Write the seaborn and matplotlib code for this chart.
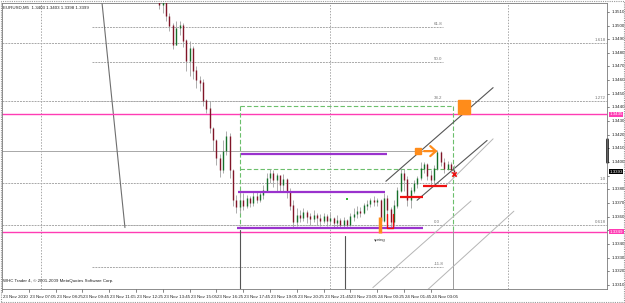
import numpy as np
import pandas as pd
import matplotlib
matplotlib.use("Agg")
import matplotlib.pyplot as plt
import matplotlib.transforms as mtransforms
from matplotlib.patches import Rectangle
import seaborn as sns

# ---------------- data ----------------
symbol_title = "EURUSD,M5  1.3403 1.3403 1.3398 1.3399"
copyright_text = "WHC Trader 4, \u00a9 2001-2009 MetaQuotes Software Corp."

# x axis: minutes after 23 Nov 05:45
tick_minutes = [0, 80, 160, 240, 320, 400, 480, 560, 640, 720, 800, 880, 960, 1040, 1120, 1200, 1280]
tick_labels = ["23 Nov 2010", "23 Nov 07:05", "23 Nov 08:25", "23 Nov 09:45", "23 Nov 11:05",
               "23 Nov 12:25", "23 Nov 13:45", "23 Nov 15:05", "23 Nov 16:25", "23 Nov 17:45",
               "23 Nov 19:05", "23 Nov 20:25", "23 Nov 21:45", "23 Nov 23:05", "24 Nov 00:25",
               "24 Nov 01:45", "24 Nov 03:05"]
price_ticks = [1.3510, 1.3500, 1.3490, 1.3480, 1.3470, 1.3460, 1.3450, 1.3440, 1.3430, 1.3420,
               1.3410, 1.3400, 1.3390, 1.3380, 1.3370, 1.3360, 1.3350, 1.3340, 1.3330, 1.3320, 1.3310]

first_bar_minute = 460          # 23 Nov 13:25
bar_step_minutes = 10

closes = [1.3522, 1.3515, 1.3518, 1.3507, 1.3500, 1.3486, 1.3498, 1.3500, 1.3489, 1.3474,
          1.3483, 1.3467, 1.3460, 1.3458, 1.3445, 1.3439, 1.3425, 1.3416, 1.3403, 1.3394,
          1.3408, 1.3419, 1.3394, 1.3372, 1.3367, 1.3372, 1.3368, 1.3373, 1.3370, 1.3375,
          1.3372, 1.3376, 1.3379, 1.3388, 1.3392, 1.3387, 1.3390, 1.3383, 1.3387, 1.3378,
          1.3368, 1.3356, 1.3361, 1.3359, 1.3363, 1.3360, 1.3358, 1.3361, 1.3359, 1.3357,
          1.3360, 1.3357, 1.3359, 1.3355, 1.3357, 1.3354, 1.3357, 1.3354, 1.3360, 1.3362,
          1.3364, 1.3363, 1.3368, 1.3369, 1.3372, 1.3371, 1.3372, 1.3357, 1.3373, 1.3365,
          1.3356, 1.3368, 1.3379, 1.3392, 1.3387, 1.3372, 1.3379, 1.3384, 1.3388, 1.3395,
          1.3398, 1.3390, 1.3387, 1.3395, 1.3407, 1.3400, 1.3395, 1.3398, 1.3394, 1.3393]
highs = [1.3529, 1.3522, 1.3522, 1.3518, 1.3509, 1.3502, 1.3503, 1.3503, 1.3502, 1.3490,
         1.3489, 1.3485, 1.3470, 1.3463, 1.3461, 1.3446, 1.3445, 1.3426, 1.3417, 1.3406,
         1.3416, 1.3423, 1.3421, 1.3395, 1.3376, 1.3378, 1.3377, 1.3376, 1.3375, 1.3378,
         1.3379, 1.3379, 1.3383, 1.3392, 1.3395, 1.3394, 1.3392, 1.3390, 1.3391, 1.3388,
         1.3381, 1.3372, 1.3366, 1.3365, 1.3366, 1.3365, 1.3363, 1.3365, 1.3363, 1.3362,
         1.3363, 1.3362, 1.3363, 1.3360, 1.3361, 1.3359, 1.3360, 1.3358, 1.3363, 1.3366,
         1.3368, 1.3367, 1.3370, 1.3372, 1.3374, 1.3375, 1.3374, 1.3373, 1.3377, 1.3376,
         1.3367, 1.3372, 1.3382, 1.3396, 1.3395, 1.3390, 1.3382, 1.3387, 1.3390, 1.3400,
         1.3400, 1.3399, 1.3394, 1.3398, 1.3409, 1.3408, 1.3403, 1.3401, 1.3400, 1.3398]
lows = [1.3517, 1.3512, 1.3509, 1.3503, 1.3496, 1.3483, 1.3489, 1.3493, 1.3484, 1.3467,
        1.3463, 1.3461, 1.3454, 1.3452, 1.3441, 1.3436, 1.3421, 1.3408, 1.3398, 1.3389,
        1.3392, 1.3405, 1.3388, 1.3368, 1.3363, 1.3363, 1.3365, 1.3366, 1.3367, 1.3368,
        1.3370, 1.3371, 1.3373, 1.3378, 1.3385, 1.3382, 1.3379, 1.3378, 1.3379, 1.3374,
        1.3365, 1.3352, 1.3353, 1.3356, 1.3357, 1.3355, 1.3354, 1.3356, 1.3354, 1.3353,
        1.3355, 1.3353, 1.3354, 1.3352, 1.3352, 1.3352, 1.3352, 1.3352, 1.3353, 1.3357,
        1.3359, 1.3360, 1.3362, 1.3365, 1.3367, 1.3368, 1.3368, 1.3355, 1.3356, 1.3362,
        1.3352, 1.3353, 1.3366, 1.3378, 1.3379, 1.3368, 1.3366, 1.3377, 1.3381, 1.3387,
        1.3392, 1.3387, 1.3383, 1.3384, 1.3394, 1.3397, 1.3392, 1.3394, 1.3392, 1.3390]

# horizontal levels
fib_levels = [1.3499, 1.3473, 1.3445, 1.3354, 1.3323]
fib_texts = ["61.8", "50.0", "38.2", "0.0", "-11.8"]
fib_start, fib_end = 269, 1316
expansion_levels = [1.3487, 1.3445, 1.3385, 1.3354]
expansion_texts = ["1.618", "1.272", "1.0", "0.618"]
gray_level_151 = 1.3408
gray_level_151_end = 1299
pink_levels = [1.3435, 1.3349]
purple_levels = [1.3406, 1.3378, 1.3352]
purple_starts = [713, 704, 701]
purple_ends = [1149, 1143, 1257]
box_top, box_mid, box_bottom = 1.3441, 1.3395, 1.3352
box_left, box_right = 710, 1346
bid_price = 1.3393

# vertical lines (minutes)
dotted_verticals = [116, 979, 1510]
solid_vertical_a = (710, 1.3350)
solid_vertical_b = (1024, 1.3346)
trend_line = [(298, 1.3518), (367, 1.3352)]

# channel lines (minute, price) pairs
dark_channels = [[(1146, 1.33859), (1466, 1.34545)],
                 [(1239, 1.33720), (1448, 1.34158)]]
light_channels = [[(1322, 1.33820), (1466, 1.34170)],
                  [(1107, 1.33080), (1400, 1.33715)],
                  [(1264, 1.33050), (1528, 1.33640)]]

# annotation marks
orange_small = (1242, 1.3408)
orange_big = (1361, 1.3435, 36, 0.00102)
orange_arrow = [(1260, 1.3408), (1300, 1.3408)]
orange_bar = (1128, 1.33596, 1.33479)
red_segments = [(1188, 1257, 1.33742), (1257, 1328, 1.33822)]
red_cross = (1349, 1.3391)
green_dot = (1030, 1.33727)
spring_text = (1110, 1.33443)

# ---------------- figure ----------------
sns.set_theme(style="white")
plt.rcParams["font.family"] = ["Liberation Sans Narrow", "Liberation Sans", "DejaVu Sans"]

fig = plt.figure(figsize=(6.25, 3.03), dpi=100)
fig.patch.set_facecolor("white")
ax = fig.add_axes([2 / 625, 14 / 303, 605 / 625, 286 / 303])
ax.set_facecolor("white")
ax.set_xlim(0, 1806)
ax.set_ylim(1.33070, 1.35165)
for s in ax.spines.values():
    s.set_color("#7a7a7a")
    s.set_linewidth(0.6)
ax.set_xticks([])
ax.set_yticks([])

FS = 3.2
GRAY = "#a8a8a8"

# candles
n = len(closes)
t = first_bar_minute + bar_step_minutes * np.arange(n)
c = np.array(closes)
o = np.concatenate([[c[0] + 0.0004], c[:-1]])
h = np.maximum(np.array(highs), np.maximum(o, c))
l = np.minimum(np.array(lows), np.minimum(o, c))
df = pd.DataFrame({"t": t, "o": o, "c": c, "h": h, "l": l})
df["up"] = df["c"] >= df["o"]
ax.vlines(df["t"], df["l"], df["h"], color="#a0a0a0", lw=0.6, zorder=3)
body_lo = np.minimum(df["o"], df["c"])
body_hi = np.maximum(df["o"], df["c"]) + 0.00003
cols = np.where(df["up"], "#16702a", "#801528")
ax.vlines(df["t"], body_lo, body_hi, colors=cols, lw=1.0, zorder=4)

# dotted verticals
for xv in dotted_verticals:
    ax.axvline(xv, color=GRAY, lw=0.7, ls=(0, (1.5, 1.5)), zorder=1)
# trend line (extends off the top)
(x0, y0), (x1, y1) = trend_line
slope = (y1 - y0) / (x1 - x0)
ax.plot([x0 - 40, x1], [y0 - 40 * slope, y1], color="#6e6e6e", lw=0.8, zorder=2)

# fib retracement
for lv, tx in zip(fib_levels, fib_texts):
    ax.plot([fib_start, fib_end], [lv, lv], color=GRAY, lw=0.7, ls=(0, (2, 1)), zorder=1)
    ax.text(fib_end - 28, lv + 0.00008, tx, fontsize=FS, color="#777777", ha="left", va="bottom")
# expansion levels across whole width
for lv, tx in zip(expansion_levels, expansion_texts):
    ax.axhline(lv, color=GRAY, lw=0.7, ls=(0, (2, 1)), zorder=1)
    ax.text(1803, lv + 0.00008, tx, fontsize=FS, color="#777777", ha="right", va="bottom")
ax.plot([0, gray_level_151_end], [gray_level_151] * 2, color=GRAY, lw=0.7, zorder=1)

# pink lines
for lv in pink_levels:
    ax.axhline(lv, color="#ff3cb4", lw=1.0, zorder=2)

# green dashed box
gk = dict(color="#6cbf6c", lw=0.8, ls=(0, (4, 2)), zorder=2)
ax.plot([box_left, box_right], [box_top, box_top], **gk)
ax.plot([box_left, box_right], [box_mid, box_mid], **gk)
ax.plot([box_left, box_left], [box_top, box_bottom], **gk)
ax.plot([box_right, box_right], [box_top, 1.3350], **gk)

# solid verticals at bottom
ax.plot([solid_vertical_a[0]] * 2, [solid_vertical_a[1], 1.3307], color="#555555", lw=0.8, zorder=2)
ax.plot([solid_vertical_b[0]] * 2, [solid_vertical_b[1], 1.3307], color="#555555", lw=0.8, zorder=2)
ax.plot([box_right] * 2, [1.3350, 1.3307], color="#9a9a9a", lw=0.7, zorder=2)

# purple levels
for lv, s0, s1 in zip(purple_levels, purple_starts, purple_ends):
    ax.plot([s0, s1], [lv, lv], color="#9a32cd", lw=1.6, zorder=5, solid_capstyle="butt")

# channels
for seg in dark_channels:
    (a0, b0), (a1, b1) = seg
    ax.plot([a0, a1], [b0, b1], color="#555555", lw=0.8, zorder=2)
for seg in light_channels:
    (a0, b0), (a1, b1) = seg
    ax.plot([a0, a1], [b0, b1], color="#b5b5b5", lw=0.7, zorder=2)

# orange marks
ax.add_patch(Rectangle((orange_small[0] - 8, orange_small[1] - 0.00021), 16, 0.00042,
                       color="#ff8c1a", zorder=6))
ox, oy, ow, oh = orange_big
ax.add_patch(Rectangle((ox, oy), ow, oh, color="#ff8c1a", zorder=6))
ax.annotate("", xy=orange_arrow[1], xytext=orange_arrow[0],
            arrowprops=dict(arrowstyle="->,head_length=0.5,head_width=0.45", color="#ff8c1a",
                            lw=1.6, mutation_scale=8, shrinkA=0, shrinkB=0), zorder=6)
ax.plot([orange_bar[0]] * 2, [orange_bar[1], orange_bar[2]], color="#ff8c1a", lw=2.5,
        zorder=6, solid_capstyle="butt")

# red marks
for a0, a1, lv in red_segments:
    ax.plot([a0, a1], [lv, lv], color="#ee1111", lw=1.6, zorder=6, solid_capstyle="butt")
ax.plot([1150, 1150, 1168, 1168], [1.3362, 1.3352, 1.3352, 1.3362], color="#ee1111", lw=1.0, zorder=6)
marks = pd.DataFrame({"t": [red_cross[0]], "p": [red_cross[1]]})
sns.scatterplot(data=marks, x="t", y="p", marker="x", color="#ee1111", s=10, linewidth=1.2,
                ax=ax, zorder=7, legend=False)
dots = pd.DataFrame({"t": [green_dot[0]], "p": [green_dot[1]]})
sns.scatterplot(data=dots, x="t", y="p", marker="s", color="#33bb33", s=2, linewidth=0,
                ax=ax, zorder=7, legend=False)
ax.set_xlabel("")
ax.set_ylabel("")
ax.text(spring_text[0], spring_text[1], "spring", fontsize=FS, color="#333333", va="top")

# texts
ax.text(3, 1.3513, symbol_title, fontsize=FS, color="#222222", va="center")
ax.text(3, 1.33125, copyright_text, fontsize=FS, color="#222222", va="center")

# right price axis (labels hidden where a marker label covers them)
trans = mtransforms.blended_transform_factory(ax.transAxes, ax.transData)
special = list(pink_levels) + [bid_price]
for p in price_ticks:
    ax.plot([1.0, 1.004], [p, p], transform=trans, color="#555555", lw=0.5, clip_on=False)
    if min(abs(p - s) for s in special) < 0.00045:
        continue
    ax.text(1.008, p, f"{p:.4f}", transform=trans, fontsize=FS, va="center", ha="left",
            color="#222222")
for lv in pink_levels:
    ax.text(1.004, lv, f"{lv:.4f}", transform=trans, fontsize=FS, va="center", ha="left",
            color="white", bbox=dict(boxstyle="square,pad=0.15", fc="#ff3cb4", ec="none"))
ax.text(1.004, bid_price, f"{bid_price:.4f}", transform=trans, fontsize=FS, va="center",
        ha="left", color="white", bbox=dict(boxstyle="square,pad=0.15", fc="black", ec="none"))
ax.plot([1.0, 1.0], [1.3417, 1.3400], transform=trans, color="black", lw=1.8, clip_on=False)

# bottom time axis
transx = mtransforms.blended_transform_factory(ax.transData, ax.transAxes)
for m, lab in zip(tick_minutes, tick_labels):
    ax.plot([m, m], [0, -0.012], transform=transx, color="#555555", lw=0.5, clip_on=False)
    ax.text(m + 3, -0.02, lab, transform=transx, fontsize=FS, va="top", ha="left",
            color="#222222")

# outer frame
fig.add_artist(Rectangle((0.001, 0.002), 0.997, 0.995, transform=fig.transFigure, fill=False,
                         ec="#9a9a9a", lw=0.8, ls=(0, (1, 1))))

fig.savefig("out.png", dpi=100)
